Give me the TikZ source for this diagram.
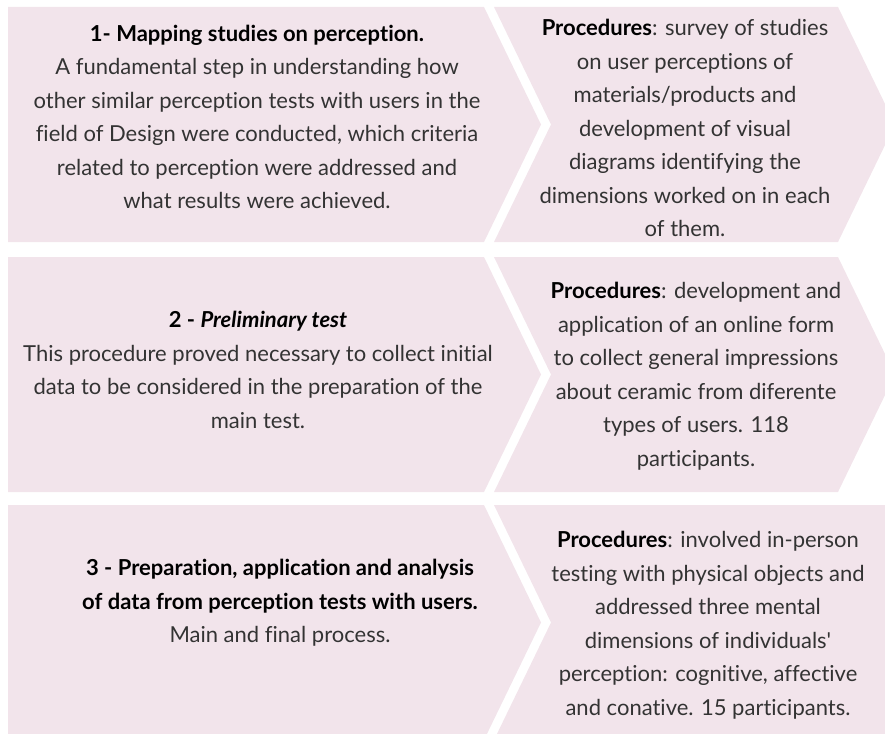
\documentclass[tikz,border=0pt]{standalone}
\usepackage{fontspec}
\setmainfont{Lato}[Ligatures=NoCommon]
\usepackage{xcolor}

\definecolor{rowpink}{HTML}{F2E4EB}
\definecolor{bodytext}{HTML}{333333}

\tikzset{
  chevron/.style={fill=rowpink},
  stagetext/.style={align=center, text=bodytext, inner sep=0pt,
    font=\fontsize{22}{33.5}\selectfont},
}

\begin{document}
\begin{tikzpicture}[x=1pt,y=-1pt]
    \useasboundingbox (0,0) rectangle (885,733);
    \clip (0,0) rectangle (885,733);

    % Draw the two chevrons of each row (top edge / right corner)
    \foreach \t/\rx in {7/838, 257/838, 505/905} {
        \pgfmathsetmacro{\b}{\t+235}
        \pgfmathsetmacro{\m}{\t+117.5}
        \fill[chevron] (8,\t) -- (484,\t) -- (541,\m) -- (484,\b) -- (8,\b) -- cycle;
        \fill[chevron] (494,\t) -- (\rx,\t) -- (\rx+57,\m) -- (\rx,\b) -- (494,\b)
            -- (551,\m) -- cycle;
    }

    % Stage texts
    \node[stagetext] (s1) at (257,117) {\textbf{\color{black}1- Mapping studies on perception.}\\
        A fundamental step in understanding how\\
        other similar perception tests with users in the\\
        field of Design were conducted, which criteria\\
        related to perception were addressed and\\
        what results were achieved.};
    \node[stagetext] (s2) at (258,370) {\textbf{\color{black}2 - \textit{Preliminary test}}\\
        This procedure proved necessary to collect initial\\
        data to be considered in the preparation of the\\
        main test.};
    \node[stagetext] (s3) at (280,603) {\textbf{\color{black}3 - Preparation, application and analysis}\\
        \textbf{\color{black}of data from perception tests with users.}\\
        Main and final process.};

    % Procedure texts
    \node[stagetext] (p1) at (685,128) {\textbf{\color{black}Procedures}: survey of studies\\
        on user perceptions of\\
        materials/products and\\
        development of visual\\
        diagrams identifying the\\
        dimensions worked on in each\\
        of them.};
    \node[stagetext] (p2) at (696,376) {\textbf{\color{black}Procedures}: development and\\
        application of an online form\\
        to collect general impressions\\
        about ceramic from diferente\\
        types of users. 118\\
        participants.};
    \node[stagetext] (p3) at (708,625) {\textbf{\color{black}Procedures}: involved in-person\\
        testing with physical objects and\\
        addressed three mental\\
        dimensions of individuals\textquotesingle\\
        perception: cognitive, affective\\
        and conative. 15 participants.};
\end{tikzpicture}
\end{document}
